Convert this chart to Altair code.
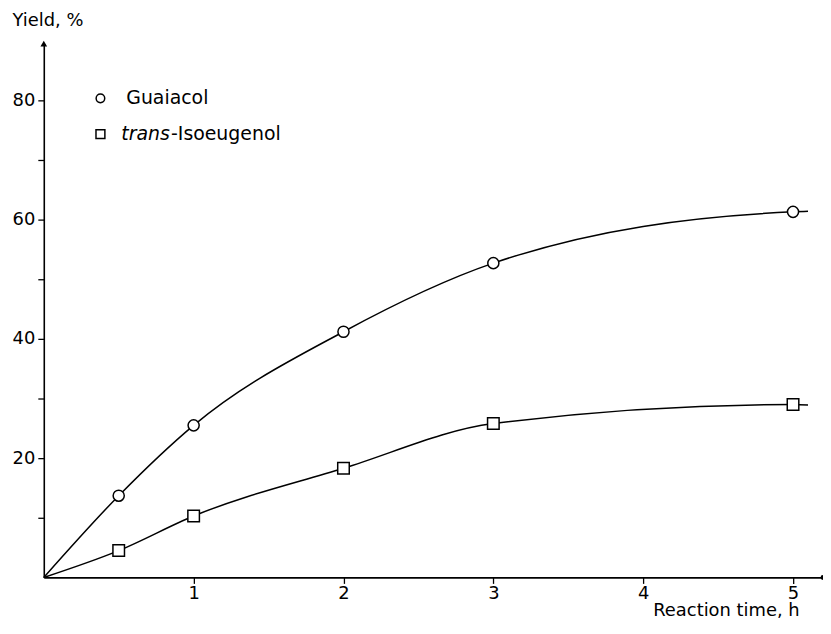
import altair as alt
import pandas as pd

# data
time_h = [0.5, 1, 2, 3, 5]
guaiacol = [13.7, 25.5, 41.2, 52.7, 61.3]
isoeugenol = [4.5, 10.3, 18.3, 25.8, 29.0]
# smooth fitted curves: start at origin, short tail past the last point
curve_start = (0.0, 0.0, 0.0)
curve_end = (5.1, 61.4, 28.9)
series = ["Guaiacol", "trans-Isoeugenol"]
x_ticks = [1, 2, 3, 4, 5]
y_ticks = [10, 20, 30, 40, 50, 60, 70, 80]
x_max = 5.2
y_max = 89.5

FONT = "DejaVu Sans"
FS = 18

pts = pd.DataFrame(
    [{"t": t, "y": g, "s": series[0]} for t, g in zip(time_h, guaiacol)]
    + [{"t": t, "y": v, "s": series[1]} for t, v in zip(time_h, isoeugenol)]
)
curves = pd.DataFrame(
    [{"t": curve_start[0], "y": curve_start[1], "s": series[0]}]
    + [{"t": t, "y": g, "s": series[0]} for t, g in zip(time_h, guaiacol)]
    + [{"t": curve_end[0], "y": curve_end[1], "s": series[0]}]
    + [{"t": curve_start[0], "y": curve_start[2], "s": series[1]}]
    + [{"t": t, "y": v, "s": series[1]} for t, v in zip(time_h, isoeugenol)]
    + [{"t": curve_end[0], "y": curve_end[2], "s": series[1]}]
)

xs = alt.Scale(domain=[0, x_max], nice=False, zero=False)
ys = alt.Scale(domain=[0, y_max], nice=False, zero=False)

x_axis = alt.Axis(
    values=x_ticks, format="d", grid=False, tickSize=6, tickColor="black", tickWidth=1.3,
    domainColor="black", domainWidth=1.6, labelFontSize=FS, labelFont=FONT,
    labelColor="black", labelPadding=1, title="Reaction time, h",
    titleFont=FONT, titleFontSize=FS, titleFontWeight="normal", titleColor="black",
    titleAngle=0, titleAlign="right", titleBaseline="middle", titleX=760, titleY=33,
)
y_axis = alt.Axis(
    values=y_ticks, format="d", grid=False, tickSize=6, tickColor="black", tickWidth=1.3,
    domainColor="black", domainWidth=1.6, labelFontSize=FS, labelFont=FONT,
    labelColor="black", labelPadding=3,
    labelExpr="datum.value % 20 === 0 ? datum.label : ''",
    title="Yield, %", titleFont=FONT, titleFontSize=FS, titleFontWeight="normal",
    titleColor="black", titleAngle=0, titleAlign="left", titleBaseline="middle",
    titleX=-32, titleY=-23,
)

X = alt.X("t:Q", scale=xs, axis=x_axis)
Y = alt.Y("y:Q", scale=ys, axis=y_axis)

lines = alt.Chart(curves).mark_line(
    color="black", strokeWidth=1.5, interpolate="monotone"
).encode(x=X, y=Y, detail="s:N")

markers = alt.Chart(pts).mark_point(
    filled=True, fill="white", stroke="black", strokeWidth=1.5, opacity=1
).encode(
    x=X, y=Y,
    shape=alt.Shape("s:N", scale=alt.Scale(domain=series, range=["circle", "square"]), legend=None),
    size=alt.Size("s:N", scale=alt.Scale(domain=series, range=[125, 135]), legend=None),
)

# axis end decorations: arrow on y axis, dot at end of x axis
arrow = alt.Chart(pd.DataFrame({"t": [0.0], "y": [y_max]})).mark_point(
    shape="triangle-up", filled=True, color="black", size=45, opacity=1
).encode(x=X, y=Y)
dot = alt.Chart(pd.DataFrame({"t": [x_max], "y": [0.0]})).mark_point(
    shape="circle", filled=True, color="black", size=25, opacity=1
).encode(x=X, y=Y)

# hand-drawn legend (pixel positions inside the plot area)
LFS = 19
leg_circle = alt.Chart(pd.DataFrame({"s": [series[0]]})).mark_point(
    shape="circle", filled=True, fill="white", stroke="black", strokeWidth=1.5, opacity=1, size=75
).encode(x=alt.value(57), y=alt.value(55))
leg_square = alt.Chart(pd.DataFrame({"s": [series[1]]})).mark_point(
    shape="square", filled=True, fill="white", stroke="black", strokeWidth=1.5, opacity=1, size=80
).encode(x=alt.value(57), y=alt.value(91))
leg_txt1 = alt.Chart(pd.DataFrame({"s": [series[0]]})).mark_text(
    align="left", baseline="middle", font=FONT, fontSize=LFS, color="black"
).encode(x=alt.value(83), y=alt.value(55), text="s:N")
italic_part, rest_part = series[1].split("-", 1)
leg_txt2 = alt.Chart(pd.DataFrame({"s": [italic_part]})).mark_text(
    align="left", baseline="middle", font=FONT, fontSize=LFS, fontStyle="italic", color="black"
).encode(x=alt.value(78), y=alt.value(91), text="s:N")
leg_txt3 = alt.Chart(pd.DataFrame({"s": ["-" + rest_part]})).mark_text(
    align="left", baseline="middle", font=FONT, fontSize=LFS, color="black"
).encode(x=alt.value(128), y=alt.value(91), text="s:N")

chart = alt.layer(
    lines, markers, arrow, dot, leg_circle, leg_square, leg_txt1, leg_txt2, leg_txt3
).properties(
    width=784, height=537,
    autosize=alt.AutoSizeParams(type="none"),
    padding={"left": 36, "top": 34, "right": 0, "bottom": 52},
    background="white",
).configure_view(strokeWidth=0, stroke="transparent").configure_axis(grid=False)

chart.save("out.html", embed_options={"renderer": "svg", "actions": False})
